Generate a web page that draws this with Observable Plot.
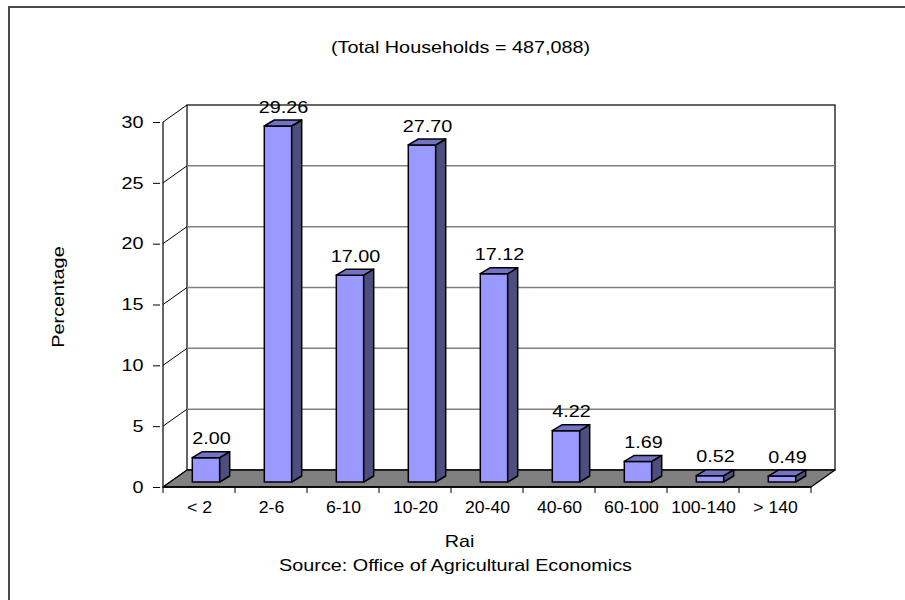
<!DOCTYPE html>
<html><head><meta charset="utf-8">
<script src="https://cdn.jsdelivr.net/npm/d3@7"></script>
<script src="https://cdn.jsdelivr.net/npm/@observablehq/plot@0.6"></script>
<style>
html,body{margin:0;padding:0;background:#fff;}
#wrap{position:relative;width:905px;height:600px;overflow:hidden;}
#wrap::before{content:"";position:absolute;left:8px;top:6px;right:-10px;bottom:-10px;border-top:2px solid #4a4a4a;border-left:2px solid #4a4a4a;pointer-events:none;z-index:2}
</style></head><body><div id="wrap"></div>
<script>
const categories = ["< 2", "2-6", "6-10", "10-20", "20-40", "40-60", "60-100", "100-140", "> 140"];
const values = [2.00, 29.26, 17.00, 27.70, 17.12, 4.22, 1.69, 0.52, 0.49];
const yTicks = [0, 5, 10, 15, 20, 25, 30];
const titleText = "(Total Households = 487,088)";
const xTitle = "Rai";
const yTitle = "Percentage";
const sourceText = "Source: Office of Agricultural Economics";

const data = categories.map((c, i) => ({cat: c, val: values[i]}));

const DEPTH = [24, -17], BAR = [7, -5], SIDE = [10, -6], INSET = 22.3;
const font = "'Liberation Sans', Arial, sans-serif";
const FS = 16.5;

const chart = Plot.plot({
  width: 905, height: 600,
  marginLeft: 160, marginRight: 91, marginTop: 122, marginBottom: 113,
  style: {fontFamily: font, fontSize: FS + "px", background: "white", color: "black", overflow: "visible"},
  x: {domain: categories, padding: 0, label: null},
  y: {domain: [0, 30], label: null},
  marks: [
    Plot.axisY(yTicks, {tickSize: 7, tickPadding: 10, fontSize: FS, label: null}),
    Plot.axisX({tickSize: 0, tickPadding: 14, fontSize: 16, label: null}),
    Plot.barY(data, {x: "cat", y: "val", fill: "#9999FF", stroke: "black", strokeWidth: 1.5,
      insetLeft: INSET, insetRight: INSET, dx: BAR[0], dy: BAR[1]}),
    Plot.text(data, {x: "cat", y: "val", text: d => d.val.toFixed(2), dx: 12, dy: -24, fontSize: FS}),
    Plot.text([titleText], {text: d => d, frameAnchor: "top", textAnchor: "middle", lineAnchor: "middle", dx: -27, dy: -75, fontSize: FS}),
    Plot.text([xTitle], {text: d => d, frameAnchor: "bottom", textAnchor: "middle", lineAnchor: "middle", dx: -28, dy: 54, fontSize: FS}),
    Plot.text([sourceText], {text: d => d, frameAnchor: "bottom", textAnchor: "middle", lineAnchor: "middle", dx: -32, dy: 78, fontSize: FS}),
    Plot.text([yTitle], {text: d => d, frameAnchor: "left", textAnchor: "middle", lineAnchor: "middle", dx: -102, dy: -8, rotate: -90, fontSize: FS})
  ]
});

document.getElementById("wrap").appendChild(chart);

const sx = chart.scale("x"), sy = chart.scale("y");
const bw = sx.bandwidth;
const X = c => sx.apply(c);
const Y = v => sy.apply(v);
const X0 = X(categories[0]), X1 = X(categories[categories.length - 1]) + bw;
const Y0 = Y(0), YT = Y(yTicks[yTicks.length - 1]);
const ns = "http://www.w3.org/2000/svg";
const pts = a => a.map(p => p.join(",")).join(" ");

// background: wall, grid, floor, axis frame
const bg = d3.select(chart).insert("g", "g").attr("class", "box3d");
bg.append("rect")
  .attr("x", X0 + DEPTH[0]).attr("y", YT + DEPTH[1])
  .attr("width", X1 - X0).attr("height", Y0 - YT)
  .attr("fill", "white").attr("stroke", "black").attr("stroke-width", 1.2);
bg.selectAll("line.grid").data(yTicks.slice(1, -1)).join("line").attr("class", "grid")
  .attr("x1", X0 + DEPTH[0]).attr("x2", X1 + DEPTH[0])
  .attr("y1", d => Y(d) + DEPTH[1]).attr("y2", d => Y(d) + DEPTH[1])
  .attr("stroke", "#808080").attr("stroke-width", 1.5);
bg.selectAll("line.diag").data(yTicks).join("line").attr("class", "diag")
  .attr("x1", X0).attr("x2", X0 + DEPTH[0])
  .attr("y1", d => Y(d)).attr("y2", d => Y(d) + DEPTH[1])
  .attr("stroke", "black").attr("stroke-width", 1);
bg.append("line").attr("x1", X0).attr("x2", X0).attr("y1", YT).attr("y2", Y0)
  .attr("stroke", "black").attr("stroke-width", 1.2);
bg.append("polygon")
  .attr("points", pts([[X0, Y0], [X1, Y0], [X1 + DEPTH[0], Y0 + DEPTH[1]], [X0 + DEPTH[0], Y0 + DEPTH[1]]]))
  .attr("fill", "#808080").attr("stroke", "black").attr("stroke-width", 1.3).attr("stroke-linejoin", "round");
const bounds = categories.map(c => X(c)).concat([X1]);
bg.selectAll("line.xt").data(bounds).join("line").attr("class", "xt")
  .attr("x1", d => d).attr("x2", d => d).attr("y1", Y0).attr("y2", Y0 + 6)
  .attr("stroke", "black").attr("stroke-width", 1);
bg.append("line").attr("x1", X0).attr("x2", X1).attr("y1", Y0).attr("y2", Y0)
  .attr("stroke", "black").attr("stroke-width", 1.6);

// foreground: top and side faces of the bars
const barG = chart.querySelector('g[aria-label="bar"]');
const fg = document.createElementNS(ns, "g");
barG.parentNode.insertBefore(fg, barG.nextSibling);
const fgs = d3.select(fg);
data.forEach(d => {
  const bx0 = X(d.cat) + INSET + BAR[0], bx1 = X(d.cat) + bw - INSET + BAR[0];
  const by = Y(d.val) + BAR[1], bb = Y(0) + BAR[1];
  fgs.append("polygon")
    .attr("points", pts([[bx1, by], [bx1 + SIDE[0], by + SIDE[1]], [bx1 + SIDE[0], bb + SIDE[1]], [bx1, bb]]))
    .attr("fill", "#4D4D80").attr("stroke", "black").attr("stroke-width", 1.5).attr("stroke-linejoin", "round");
  fgs.append("polygon")
    .attr("points", pts([[bx0, by], [bx1, by], [bx1 + SIDE[0], by + SIDE[1]], [bx0 + SIDE[0], by + SIDE[1]]]))
    .attr("fill", "#7373C6").attr("stroke", "black").attr("stroke-width", 1.5).attr("stroke-linejoin", "round");
});

// horizontally stretched text, as in the reference
chart.querySelectorAll("text").forEach(t => {
  const len = t.getComputedTextLength();
  const k = t.closest('g[aria-label="x-axis tick label"]') ? 1.1 : 1.2;
  if (len > 0) {
    t.setAttribute("textLength", (len * k).toFixed(1));
    t.setAttribute("lengthAdjust", "spacingAndGlyphs");
  }
});
</script></body></html>
